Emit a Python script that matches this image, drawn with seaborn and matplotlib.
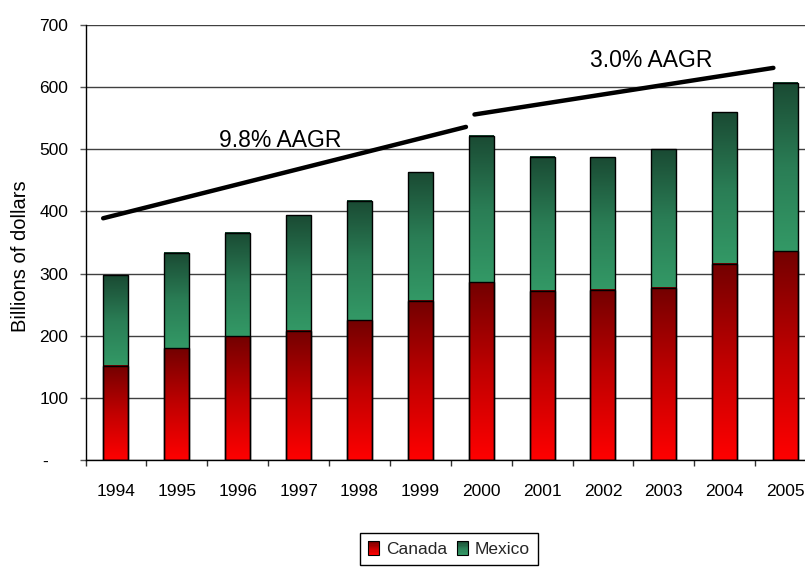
import numpy as np
import pandas as pd
import matplotlib
matplotlib.use("Agg")
import matplotlib.pyplot as plt
import seaborn as sns
from matplotlib.colors import LinearSegmentedColormap
from matplotlib.patches import Rectangle
from matplotlib.legend_handler import HandlerBase

# ---------------- data ----------------
years = ["1994", "1995", "1996", "1997", "1998", "1999",
         "2000", "2001", "2002", "2003", "2004", "2005"]
canada = [152, 180, 199, 208, 225, 256, 286, 272, 274, 277, 316, 336]
total = [297, 333, 366, 394, 417, 463, 521, 488, 488, 500, 560, 607]
mexico = [t - c for t, c in zip(total, canada)]
series_names = ["Canada", "Mexico"]
ytick_values = [0, 100, 200, 300, 400, 500, 600, 700]
ytick_labels = ["-    ", "100", "200", "300", "400", "500", "600", "700"]
y_label = "Billions of dollars"

# trend annotations
trend_labels = ["9.8% AAGR", "3.0% AAGR"]
trend1_x = [-0.21, 5.75]
trend1_y = [389, 536]
trend2_x = [5.89, 10.8]
trend2_y = [556, 631]
trend_label_x = [2.70, 8.80]
trend_label_y = [504, 633]

# ---------------- style ----------------
sns.set_theme(style="white")
plt.rcParams["font.family"] = ["Liberation Sans", "DejaVu Sans"]

red_cmap = LinearSegmentedColormap.from_list("red", ["#FF0000", "#C00000", "#730000"])
green_cmap = LinearSegmentedColormap.from_list("green", ["#339966", "#2A7D55", "#1A4A33"])

W, H = 805, 569
fig = plt.figure(figsize=(W / 100, H / 100), dpi=100)
ax_left, ax_right, ax_top, ax_bottom = 85.5, 816, 25, 460
ax = fig.add_axes([ax_left / W, 1 - ax_bottom / H,
                   (ax_right - ax_left) / W, (ax_bottom - ax_top) / H])

df = pd.DataFrame({"year": years, "Canada": canada, "Mexico": mexico, "total": total})

sns.barplot(data=df, x="year", y="total", order=years, color="#339966",
            width=0.41, errorbar=None, ax=ax)
sns.barplot(data=df, x="year", y="Canada", order=years, color="#FF0000",
            width=0.41, errorbar=None, ax=ax)

grad = np.linspace(0, 1, 256).reshape(-1, 1)
green_bars = ax.containers[0].patches
red_bars = ax.containers[1].patches
for gp, rp, c, t in zip(green_bars, red_bars, canada, total):
    x0 = gp.get_x()
    x1 = x0 + gp.get_width()
    ax.imshow(grad, extent=[x0, x1, c, t], origin="lower", cmap=green_cmap,
              aspect="auto", zorder=2, interpolation="bilinear")
    ax.imshow(grad, extent=[x0, x1, 0, c], origin="lower", cmap=red_cmap,
              aspect="auto", zorder=2, interpolation="bilinear")
    for p in (gp, rp):
        p.set_facecolor("none")
        p.set_edgecolor("black")
        p.set_linewidth(1.0)
        p.set_zorder(3)

# trend lines
sns.lineplot(x=trend1_x, y=trend1_y, color="black", linewidth=3.2, ax=ax, zorder=4)
sns.lineplot(x=trend2_x, y=trend2_y, color="black", linewidth=3.2, ax=ax, zorder=4)
for lab, lx, ly in zip(trend_labels, trend_label_x, trend_label_y):
    ax.text(lx, ly, lab, ha="center", va="baseline", fontsize=16.5, color="black", zorder=5)

ax.set_xlim(-0.5, len(years) - 0.5)
ax.set_ylim(0, 700)

# axes styling
ax.set_yticks(ytick_values)
ax.set_yticklabels(ytick_labels)
ax.yaxis.grid(True, color="#404040", linewidth=1.0)
ax.set_axisbelow(True)
for s in ("top", "right"):
    ax.spines[s].set_visible(False)
ax.spines["left"].set_color("black")
ax.spines["bottom"].set_color("black")
ax.spines["left"].set_linewidth(1.0)
ax.spines["bottom"].set_linewidth(1.0)

ax.tick_params(axis="y", which="major", left=True, length=4, width=1,
               color="#555555", pad=8.5, labelsize=12.5, labelcolor="black")
ax.tick_params(axis="x", which="major", bottom=True, length=0, pad=17,
               labelsize=12.5, labelcolor="black")
ax.set_xticks(np.arange(-0.5, len(years) + 0.5, 1.0), minor=True)
ax.tick_params(axis="x", which="minor", bottom=True, length=4.5, width=1,
               color="#333333")

ax.set_xlabel("")
ax.set_ylabel(y_label, fontsize=14.5, color="black")
ax.yaxis.label.set_va("center")
ax.yaxis.set_label_coords((20.5 - ax_left) / (ax_right - ax_left),
                          (ax_bottom - 256.5) / (ax_bottom - ax_top))


# legend with gradient swatches
class GradientHandler(HandlerBase):
    def __init__(self, cmap, n=12):
        super().__init__()
        self.cmap = cmap
        self.n = n

    def create_artists(self, legend, orig_handle, xdescent, ydescent,
                       width, height, fontsize, trans):
        arts = []
        h = height / self.n
        for i in range(self.n):
            col = self.cmap(i / (self.n - 1))
            arts.append(Rectangle((-xdescent, -ydescent + i * h), width, h * 1.02,
                                  facecolor=col, edgecolor="none", transform=trans))
        arts.append(Rectangle((-xdescent, -ydescent), width, height,
                              facecolor="none", edgecolor="black", linewidth=0.8,
                              transform=trans))
        return arts


h_can = Rectangle((0, 0), 1, 1)
h_mex = Rectangle((0, 0), 1, 1)
leg = fig.legend([h_can, h_mex], series_names, ncol=2,
                 loc="upper left", bbox_to_anchor=(360 / W, 1 - 533 / H),
                 bbox_transform=fig.transFigure,
                 handler_map={h_can: GradientHandler(red_cmap),
                              h_mex: GradientHandler(green_cmap)},
                 fontsize=12.5, handlelength=0.63, handleheight=0.9,
                 handletextpad=0.4, columnspacing=0.6, borderpad=0.45,
                 borderaxespad=0, fancybox=False, shadow=False, framealpha=1)
leg.get_frame().set_edgecolor("black")
leg.get_frame().set_linewidth(1.0)

fig.savefig("out.png", dpi=100, facecolor="white")
